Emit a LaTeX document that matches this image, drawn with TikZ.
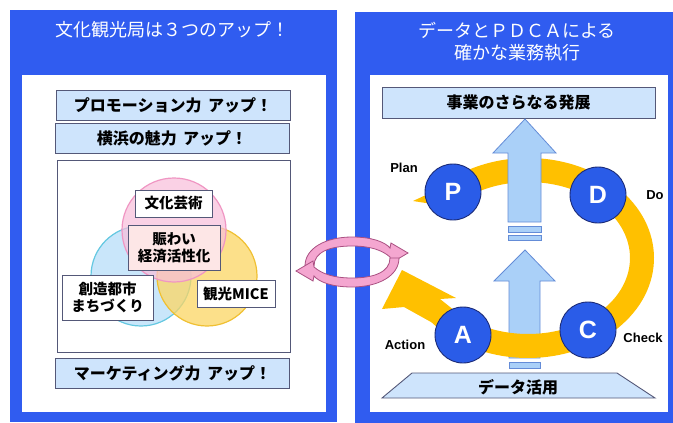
\documentclass[tikz,border=0pt]{standalone}
\usepackage{fontspec}
\usepackage{tikz}
\usetikzlibrary{positioning,calc}
\newfontfamily\jpfont{Noto Sans CJK JP}
\newfontfamily\latfont{Liberation Sans}

\definecolor{frameblue}{RGB}{48,92,240}
\definecolor{boxblue}{RGB}{206,228,252}
\definecolor{boxline}{RGB}{84,88,120}
\definecolor{ringgold}{RGB}{255,192,0}
\definecolor{discblue}{RGB}{42,92,232}
\definecolor{discline}{RGB}{28,44,120}
\definecolor{arrowblue}{RGB}{170,208,248}
\definecolor{arrowline}{RGB}{100,140,215}
\definecolor{cyclepink}{RGB}{244,166,208}
\definecolor{cycleline}{RGB}{170,80,130}
\definecolor{vennpink}{RGB}{249,190,218}
\definecolor{vennpinkline}{RGB}{240,150,195}
\definecolor{vennblue}{RGB}{192,226,250}
\definecolor{vennblueline}{RGB}{100,200,225}
\definecolor{vennyellow}{RGB}{252,214,100}
\definecolor{vennyellowline}{RGB}{240,192,50}
\definecolor{hubpink}{RGB}{253,230,230}

\tikzset{
  panelhead/.style={text=white, align=center, font=\jpfont\fontsize{18}{22}\selectfont},
  upbar/.style={draw=boxline, fill=boxblue, line width=0.9pt, minimum width=234, minimum height=30,
    inner sep=0, font=\jpfont\bfseries\fontsize{16}{19}\selectfont},
  vennlabel/.style={draw=boxline, fill=white, line width=0.9pt, align=center, inner sep=0,
    font=\jpfont\bfseries\fontsize{14.5}{17}\selectfont},
  pdcadisc/.style={circle, draw=discline, fill=discblue, line width=0.9pt, minimum size=56,
    inner sep=0, text=white, font=\latfont\bfseries\fontsize{25}{25}\selectfont},
  pdcaname/.style={font=\latfont\bfseries\fontsize{13}{13}\selectfont},
  bigarrow/.style={draw=arrowline, fill=arrowblue, line width=0.8pt},
  turnarrow/.style={draw=cycleline, fill=cyclepink, line width=0.8pt}
}

\begin{document}
\begin{tikzpicture}[x=1pt,y=-1pt]
\useasboundingbox (0,0) rectangle (673,423);

% Left panel
\fill[frameblue] (10,10) rectangle (337,422);
\fill[white] (22,75) rectangle (326,412);
\node[panelhead] (lefthead) at (173,30) {文化観光局は３つのアップ！};
\node[upbar] (promo) at (173,105) {プロモーション力\hspace{0.4em}アップ！};
\node[upbar] (charm) at (172,138) {横浜の魅力\hspace{0.4em}アップ！};
\node[draw=boxline, fill=white, line width=0.9pt, minimum width=233, minimum height=192] (vennbox) at (173.5,256) {};
\node[upbar] (market) at (172.5,373) {マーケティング力\hspace{0.4em}アップ！};

% Venn circles
\filldraw[draw=vennblueline, fill=vennblue, line width=1.2pt, fill opacity=0.85] (141,276) circle[radius=50];
\filldraw[draw=vennyellowline, fill=vennyellow, line width=1.2pt, fill opacity=0.75] (207,276) circle[radius=50];
\filldraw[draw=vennpinkline, fill=vennpink, line width=1.2pt, fill opacity=0.7] (174,230) circle[radius=52];
\node[vennlabel, minimum width=77, minimum height=27] (arts) at (173.5,203.5) {文化芸術};
\node[vennlabel, fill=hubpink, minimum width=92, minimum height=45] (hub) at (174,247.5) {賑わい\\経済活性化};
\node[vennlabel, minimum width=91, minimum height=45] (city) at (107.5,297.5) {創造都市\\まちづくり};
\node[vennlabel, minimum width=78, minimum height=27] (mice) at (236,293.5) {観光MICE};

% Right panel
\fill[frameblue] (355,12) rectangle (673,423);
\fill[white] (370,75) rectangle (668,412);
\node[panelhead] (righthead) at (517,41.5) {データとＰＤＣＡによる\\確かな業務執行};
\node[upbar, minimum width=273, minimum height=31] (growth) at (518.5,102.5) {事業のさらなる発展};

% lower arrow (behind the ring)
\filldraw[bigarrow] (509,358) -- (509,281) -- (494,281) -- (525,250) -- (555,281) -- (540,281) -- (540,358) -- cycle;
\filldraw[bigarrow] (509,362) rectangle (540,368);

% PDCA ring
\coordinate (rc) at (528,258);
\fill[ringgold] (413,201) -- ($(rc)+(222:126 and 100)$)
  arc[start angle=222, end angle=500, x radius=126, y radius=100]
  -- (404,307) -- (382,309) -- (402,270) -- (456,298) -- (440,299)
  -- ($(rc)+(500:102 and 76)$)
  arc[start angle=500, end angle=222, x radius=102, y radius=76] -- cycle;

% upper arrow (over the ring)
\filldraw[bigarrow] (508,222) -- (508,153) -- (493,153) -- (525,119) -- (556,153) -- (541,153) -- (541,222) -- cycle;
\filldraw[bigarrow] (508,226) rectangle (541,232);
\filldraw[bigarrow] (508,235) rectangle (541,240);

\node[pdcadisc] (plan) at (453,192) {P};
\node[pdcadisc] (do) at (598,195) {D};
\node[pdcadisc] (check) at (588,330) {C};
\node[pdcadisc] (act) at (463,335) {A};
\node[pdcaname] (planname) at (404,168) {Plan};
\node[pdcaname] (doname) at (655,195) {Do};
\node[pdcaname] (checkname) at (643,338) {Check};
\node[pdcaname] (actname) at (405,345) {Action};

% data base
\filldraw[draw=boxline, fill=boxblue, line width=0.9pt] (382,398) -- (412,373) -- (617,373) -- (655,398) -- cycle;
\node[font=\jpfont\bfseries\fontsize{16}{19}\selectfont] (data) at (518,387) {データ活用};

% cycle arrows between the panels
\coordinate (cyc) at (352,262);
\foreach \turn in {0,180}{
  \begin{scope}[shift={(cyc)}, rotate=\turn]
    \filldraw[turnarrow] (-47,4) .. controls (-47,-14) and (-26,-25) .. (0,-25)
      .. controls (20,-25) and (33,-20) .. (38,-14) -- (39,-19) -- (56,-9) -- (39,1) -- (38,-5)
      .. controls (30,-12) and (18,-16) .. (0,-16)
      .. controls (-22,-16) and (-38,-10) .. (-38,4) -- cycle;
  \end{scope}
}
\end{tikzpicture}
\end{document}
